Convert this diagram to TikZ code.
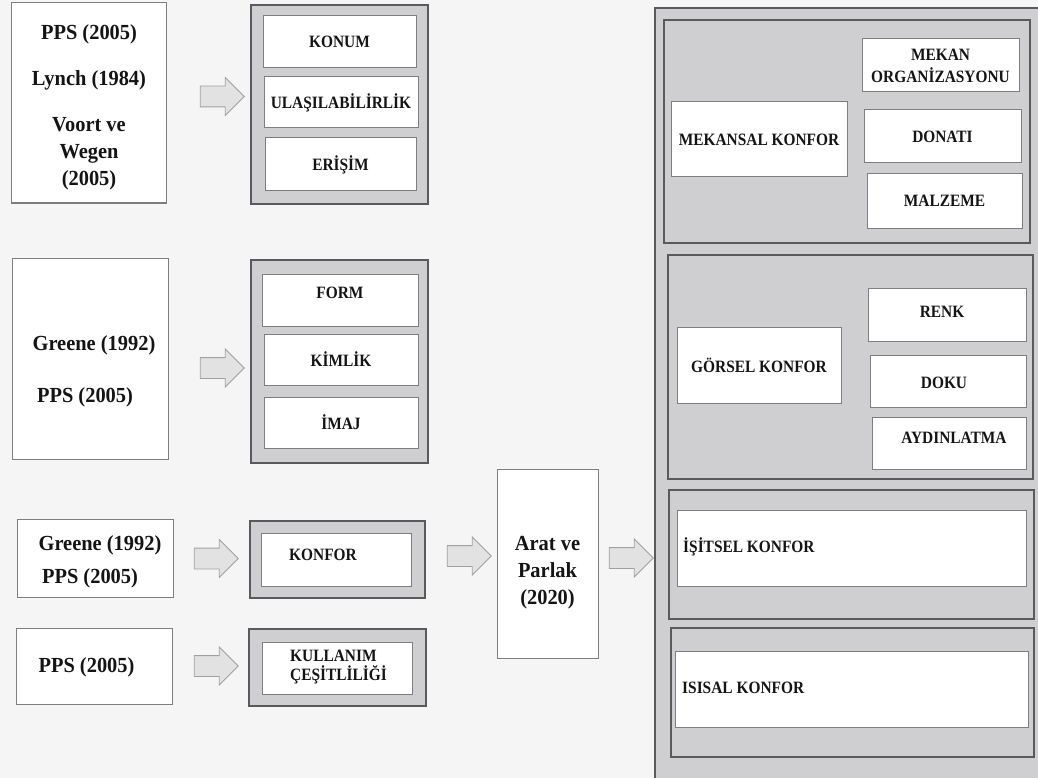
\documentclass[tikz,border=0pt]{standalone}
\usepackage{fontspec}
\setmainfont{Liberation Serif}
\newfontfamily\condlab{Liberation Serif}[FakeStretch=0.89]
\newfontfamily\condbig{Liberation Serif}[FakeStretch=0.95]
\usetikzlibrary{shapes.arrows}
\definecolor{bg}{RGB}{245,245,245}
\definecolor{panel}{RGB}{207,206,208}
\definecolor{dk}{RGB}{90,90,94}
\definecolor{wb}{RGB}{125,125,130}
\definecolor{arf}{RGB}{226,226,226}
\definecolor{ard}{RGB}{160,160,160}
\definecolor{ink}{RGB}{20,20,20}
\tikzset{
  wbox/.style={draw=wb, fill=white, line width=1pt, inner sep=0pt, outer sep=0pt, align=center,
    text=ink, font=\condlab\fontsize{17.3}{22}\selectfont\bfseries},
  gbox/.style={draw=dk, fill=panel, line width=1.2pt, inner sep=0pt, outer sep=0pt},
  big/.style={font=\condbig\fontsize{21.5}{27}\selectfont\bfseries, align=center, inner sep=0pt, text=ink},
  lab/.style={font=\condlab\fontsize{17.3}{19}\selectfont\bfseries, align=left, inner sep=0pt, text=ink},
  blk/.style={single arrow, draw=ard, fill=arf, line width=0.8pt, minimum height=44pt,
    inner xsep=0pt, inner ysep=10pt, single arrow head extend=8.5pt, single arrow head indent=0pt},
}
\begin{document}
\begin{tikzpicture}[x=1pt,y=-1pt]
\useasboundingbox (0,0) rectangle (1038,778);
\fill[bg] (0,0) rectangle (1038,778);
\begin{scope}
\clip (0,0) rectangle (1038,778);
\node[gbox, minimum width=390pt, minimum height=777pt] (panel) at (850,396.5) {};
\end{scope}

% ---- left sources ----
\node[wbox, minimum width=155pt, minimum height=200pt] (s1) at (88.5,103) {};
\node[big] (s1t) at (89,107) {PPS (2005)\\[19pt]Lynch (1984)\\[19pt]Voort ve\\Wegen\\(2005)};

\node[wbox, minimum width=156pt, minimum height=201pt] (s2) at (90,358.5) {};
\node[big] (s2a) at (94,345) {Greene (1992)};
\node[big] (s2b) at (85,397) {PPS (2005)};

\node[wbox, minimum width=156pt, minimum height=78pt] (s3) at (95,558) {};
\node[big] (s3a) at (100,545) {Greene (1992)};
\node[big] (s3b) at (90,578) {PPS (2005)};

\node[wbox, minimum width=156pt, minimum height=76pt] (s4) at (94,666) {};
\node[big] (s4t) at (86.5,667) {PPS (2005)};

% ---- block arrows ----
\node[blk] (a1) at (217,96.5) {};
\node[blk] (a2) at (217,368) {};
\node[blk] (a3) at (211,558.5) {};
\node[blk] (a4) at (211,666) {};
\node[blk] (a5) at (464,556) {};
\node[blk] (a6) at (626,558) {};

% ---- group 1 ----
\node[gbox, minimum width=177pt, minimum height=199pt] (g1) at (339.5,104.5) {};
\node[wbox, minimum width=153pt, minimum height=52pt] (konum) at (339.5,42) {KONUM};
\node[wbox, minimum width=154pt, minimum height=51pt] (ulas) at (341,102.5) {ULAŞILABİLİRLİK};
\node[wbox, minimum width=151pt, minimum height=53pt] (erisim) at (340.5,164.5) {ERİŞİM};

% ---- group 2 ----
\node[gbox, minimum width=177pt, minimum height=203pt] (g2) at (339.5,361.5) {};
\node[wbox, minimum width=156pt, minimum height=52pt] (form) at (340,300) {};
\node[lab] (formt) at (340,293) {FORM};
\node[wbox, minimum width=154pt, minimum height=51pt] (kimlik) at (341,359.5) {KİMLİK};
\node[wbox, minimum width=154pt, minimum height=51pt] (imaj) at (341,422.5) {İMAJ};

% ---- group 3 ----
\node[gbox, minimum width=175pt, minimum height=77pt] (g3) at (337.5,559.5) {};
\node[wbox, minimum width=150pt, minimum height=53pt] (konfor) at (336,559.5) {};
\node[lab] (konfort) at (323,555) {KONFOR};

% ---- group 4 ----
\node[gbox, minimum width=177pt, minimum height=77pt] (g4) at (337.5,667.5) {};
\node[wbox, minimum width=150pt, minimum height=52pt] (kull) at (337,668) {};
\node[lab, anchor=west] (kullt) at (290,667) {KULLANIM\\ÇEŞİTLİLİĞİ};

% ---- Arat ve Parlak ----
\node[wbox, minimum width=101pt, minimum height=189pt] (arat) at (547.5,563.5) {};
\node[big] (aratt) at (547.5,573) {Arat ve\\Parlak\\(2020)};

% ---- right panel: mekansal ----
\node[gbox, minimum width=366pt, minimum height=223pt] (p1) at (847,131.5) {};
\node[wbox, minimum width=157pt, minimum height=53pt] (mekorg) at (940.5,65.5) {MEKAN\\ORGANİZASYONU};
\node[wbox, minimum width=176pt, minimum height=75pt] (mekansal) at (759,139.5) {MEKANSAL KONFOR};
\node[wbox, minimum width=157pt, minimum height=53pt] (donati) at (942.5,136.5) {DONATI};
\node[wbox, minimum width=155pt, minimum height=54pt] (malzeme) at (944.5,201) {MALZEME};

% ---- gorsel ----
\node[gbox, minimum width=365pt, minimum height=224pt] (p2) at (850.5,367) {};
\node[wbox, minimum width=164pt, minimum height=76pt] (gorsel) at (759,365) {GÖRSEL KONFOR};
\node[wbox, minimum width=158pt, minimum height=53pt] (renk) at (947,314.5) {};
\node[lab] (renkt) at (942,312) {RENK};
\node[wbox, minimum width=156pt, minimum height=52pt] (doku) at (948,381) {};
\node[lab] (dokut) at (944,383) {DOKU};
\node[wbox, minimum width=154pt, minimum height=52pt] (aydin) at (949,443) {};
\node[lab] (aydint) at (954,438) {AYDINLATMA};

% ---- isitsel ----
\node[gbox, minimum width=365pt, minimum height=129pt] (p3) at (851.5,554.5) {};
\node[wbox, minimum width=349pt, minimum height=76pt] (isitsel) at (851.5,548) {};
\node[lab, anchor=west] (isitselt) at (683,547) {İŞİTSEL KONFOR};

% ---- isisal ----
\node[gbox, minimum width=363pt, minimum height=129pt] (p4) at (852.5,692.5) {};
\node[wbox, minimum width=353pt, minimum height=76pt] (isisal) at (851.5,689) {};
\node[lab, anchor=west] (isisalt) at (682,688) {ISISAL KONFOR};
\end{tikzpicture}
\end{document}
